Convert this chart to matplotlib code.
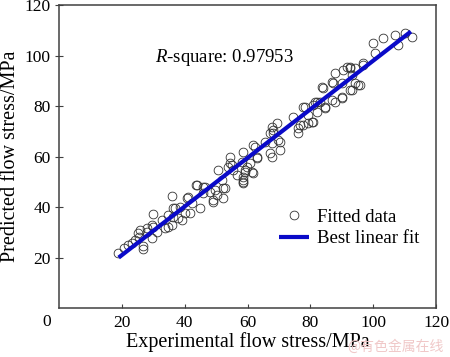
import matplotlib
matplotlib.use('Agg')
import matplotlib.pyplot as plt
import numpy as np

plt.rcParams['font.family'] = 'Liberation Serif'
plt.rcParams['mathtext.fontset'] = 'custom'
plt.rcParams['mathtext.it'] = 'Liberation Serif:italic'
plt.rcParams['mathtext.rm'] = 'Liberation Serif'

# experimental vs predicted flow stress (MPa)
exp_stress = [18.9, 20.7, 22.1, 23.1, 24.2, 25.6, 25.8, 26.8, 25.2, 27.9,
              29.5, 29.8, 30.0, 31.1, 32.7, 33.7, 34.8, 35.9, 35.9, 36.9,
              38.0, 38.5, 40.1, 41.2, 42.2, 43.6, 44.9, 45.9, 48.1, 48.9,
              50.2, 50.7, 51.8, 52.8, 53.9, 56.6, 58.7, 58.5, 61.8, 59.7,
              54.4, 55.0, 58.7, 58.7, 59.2, 60.8, 61.8, 62.9, 65.6, 67.7,
              68.2, 67.7, 70.3, 70.3, 74.6, 76.7, 76.2, 78.3, 79.4, 80.9,
              82.0, 82.0, 84.7, 83.6, 81.5, 84.1, 87.3, 87.8, 87.8, 90.0,
              90.5, 91.6, 92.6, 93.2, 93.2, 94.2, 95.8, 96.9, 100.6, 100.0,
              103.0, 106.9, 108.0, 110.1, 112.3,
              43.8, 46.5, 45.9, 49.7, 52.3, 49.1, 52.3, 54.4, 55.5, 58.2,
              59.2, 61.3, 58.7, 62.4, 62.9, 67.2, 67.7, 67.2, 69.8, 90.0,
              92.6, 94.2, 96.9, 95.3, 92.6, 90.0, 86.8, 84.7, 83.1, 86.8,
              80.9, 77.8, 79.4, 80.4, 76.2, 77.8, 69.3, 68.2, 26.8, 27.9,
              29.5, 34.8, 36.4, 36.4, 39.1, 40.6, 41.7]
pred_stress = [21.7, 23.6, 24.9, 25.9, 26.9, 28.2, 30.9, 24.6, 29.6, 30.2,
               27.6, 37.2, 32.2, 30.2, 34.9, 31.6, 36.8, 44.4, 32.9, 39.5,
               35.5, 40.1, 37.5, 44.1, 41.5, 48.7, 39.5, 48.0, 46.1, 42.1,
               44.8, 54.7, 50.7, 47.4, 56.0, 52.7, 52.0, 49.6, 53.6, 56.0,
               59.9, 56.6, 50.7, 61.9, 54.7, 57.3, 64.6, 59.3, 65.9, 71.8,
               69.2, 59.9, 65.9, 62.6, 75.8, 72.5, 69.2, 79.7, 73.1, 73.8,
               77.7, 81.7, 79.7, 87.6, 81.7, 87.0, 89.0, 93.0, 81.7, 83.7,
               94.3, 95.6, 94.9, 92.3, 86.3, 89.0, 88.3, 96.9, 100.9, 105.1,
               106.8, 108.1, 104.2, 108.8, 107.4,
               48.7, 48.0, 45.4, 46.7, 47.4, 42.8, 43.5, 57.3, 54.7, 57.9,
               54.0, 54.0, 50.0, 63.9, 59.9, 61.3, 65.2, 69.2, 66.5, 89.0,
               95.6, 94.9, 96.2, 88.3, 86.3, 83.0, 82.4, 79.1, 81.7, 89.6,
               80.4, 79.7, 76.4, 73.8, 71.2, 72.5, 73.1, 70.5, 23.5, 31.6,
               32.9, 32.2, 36.2, 39.5, 34.9, 43.4, 37.5]

# best linear fit end points
fit_x = [19.0, 112.0]
fit_y = [20.0, 109.5]

ticks = [20, 40, 60, 80, 100, 120]

fig = plt.figure(figsize=(4.5, 3.57), dpi=100)
ax = fig.add_axes([0.131, 0.137, 0.838, 0.849])

ax.plot(exp_stress, pred_stress, 'o', mfc='none', mec='#333333', mew=0.6,
        ms=6.3, label='Fitted data', zorder=2)
ax.plot(fit_x, fit_y, color='#0a0ac8', lw=3, label='Best linear fit',
        zorder=3, solid_capstyle='butt')

ax.set_xlim(0, 120)
ax.set_ylim(0, 120)
ax.set_xticks(ticks)
ax.set_yticks(ticks)
ax.tick_params(axis='x', direction='in', length=3, labelsize=12.5, pad=5,
               color='#404040')
ax.tick_params(axis='y', direction='inout', length=6, labelsize=12.5, pad=3,
               color='#404040')
for sp in ax.spines.values():
    sp.set_color('#404040')
    sp.set_linewidth(1.1)
ax.text(-0.02, -0.02, '0', transform=ax.transAxes, ha='right', va='top',
        fontsize=12.5)

ax.set_xlabel('Experimental flow stress/MPa', fontsize=14.5, labelpad=1)
ax.set_ylabel('Predicted flow stress/MPa', fontsize=14.5, labelpad=3)

ax.text(30.6, 99.4, '$R$-square: 0.97953', fontsize=13.5, va='center')

ax.legend(loc='lower right', bbox_to_anchor=(0.955, 0.2), frameon=False,
          fontsize=13.5, handlelength=1.6, handletextpad=0.4,
          labelspacing=0.25, borderaxespad=0, borderpad=0)

fig.text(0.985, 0.01, '@有色金属在线', color='#f0c8c8', fontsize=10,
         ha='right', va='bottom', family=['Noto Sans CJK SC', 'DejaVu Sans'])

fig.savefig('out.png', dpi=100, facecolor='w')
